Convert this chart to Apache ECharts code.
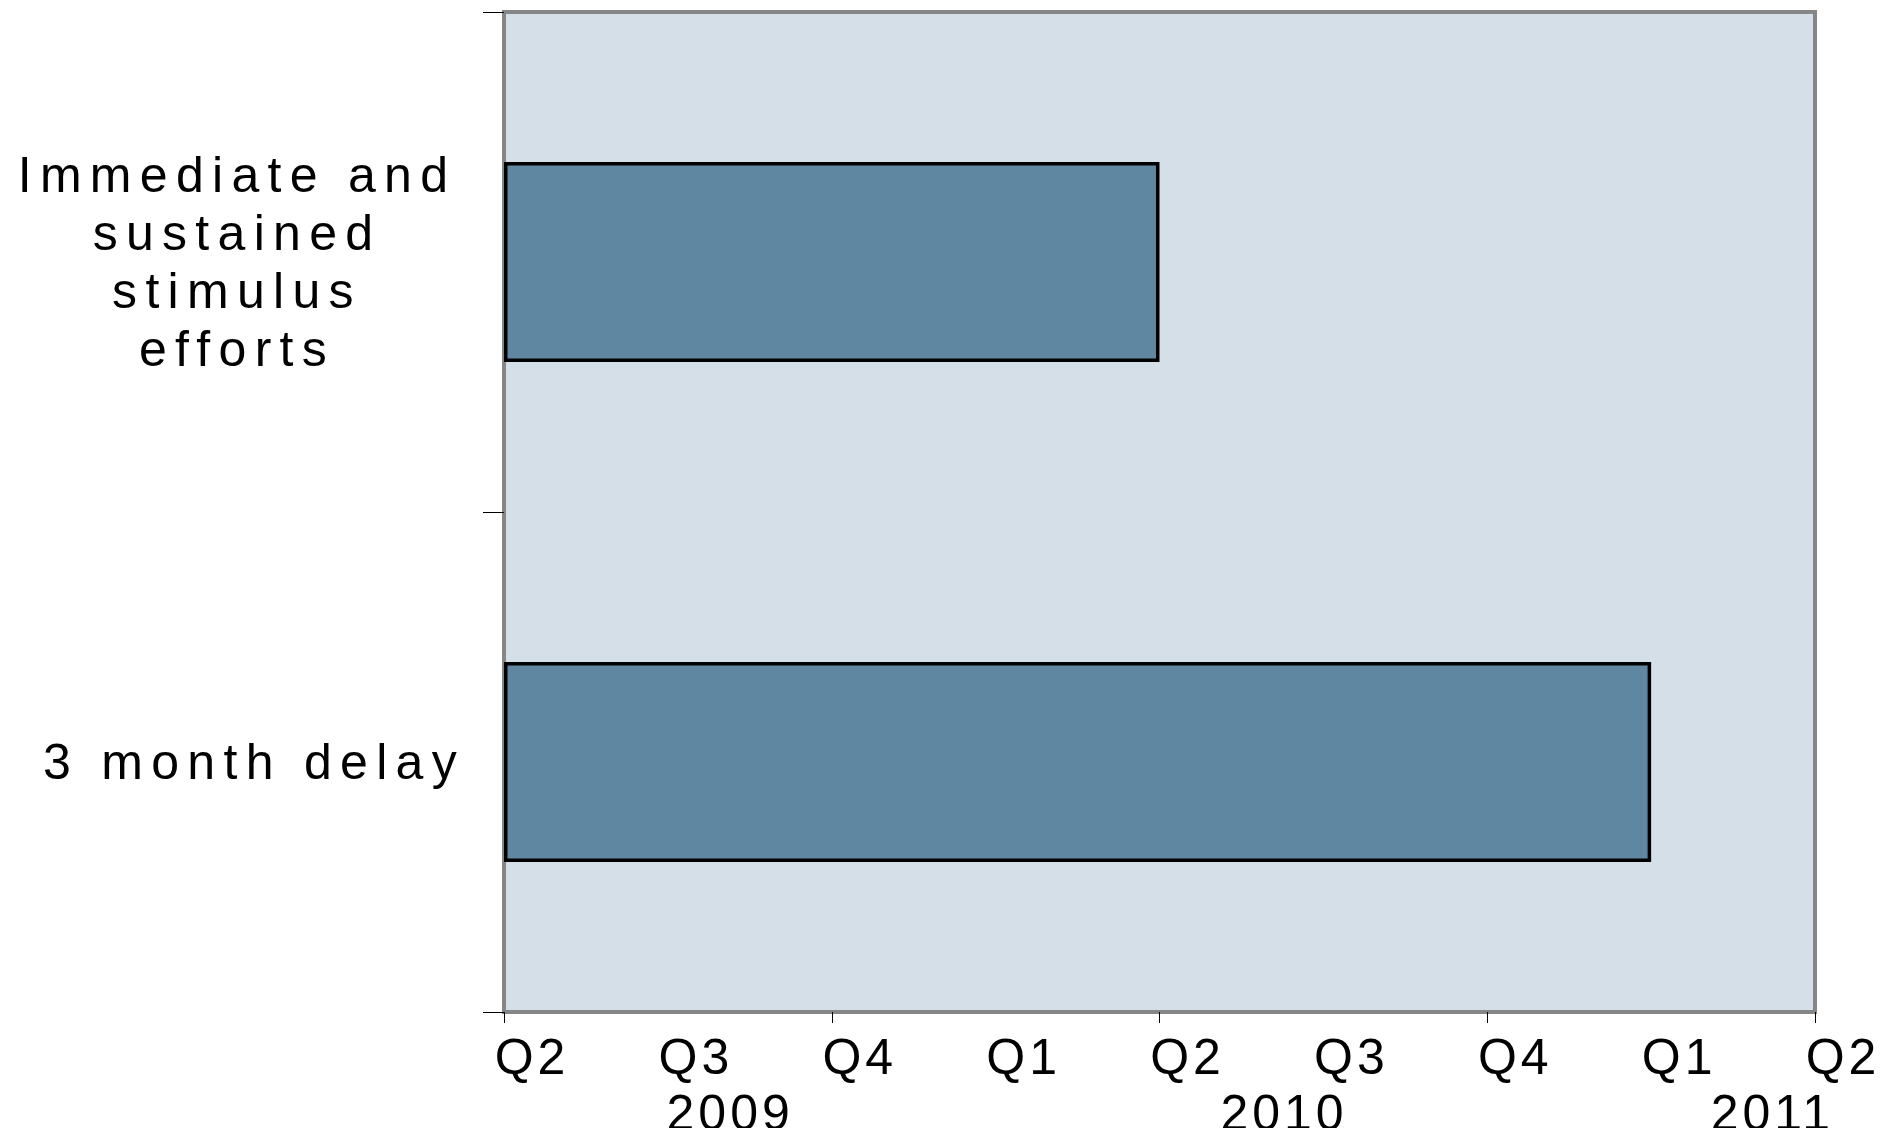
<!DOCTYPE html>
<html>
<head>
<meta charset="utf-8">
<title>Stimulus timing</title>
<style>
  html, body { margin: 0; padding: 0; background: #ffffff; }
  #chart { width: 1889px; height: 1128px; }
  /* spaced-out lettering of the axis texts */
  #chart svg text { letter-spacing: 4px; }
  #chart svg text[style*="sans-serif"] { letter-spacing: 8.3px; }
</style>
<script src="https://cdn.jsdelivr.net/npm/echarts@6/dist/echarts.min.js"></script>
</head>
<body>
<div id="chart"></div>
<script>
// Scenarios (top to bottom) and how many quarters after Q2 2009 each one runs
const scenarios = ['Immediate and\nsustained\nstimulus\nefforts', '3 month delay'];
const quartersFromQ2_2009 = [4, 7];

// Quarter axis: one label per quarter, tick marks every half year
const quarterLabels = ['Q2', 'Q3', 'Q4', 'Q1', 'Q2', 'Q3', 'Q4', 'Q1', 'Q2'];
const tickQuarters = [0, 2, 4, 6, 8];

// Year captions under the quarter labels (positions in quarters)
const yearLabels = ['2009', '2010', '2011'];
const yearPositions = [1.38, 4.76, 7.74];

const chart = echarts.init(document.getElementById('chart'), null, { renderer: 'svg' });

const axisFont = 'Liberation Sans';
const categoryFont = 'Liberation Sans, sans-serif';
const textSize = 50;

// each category label is centred line by line; the single-line one sits a bit further right
function categoryLabelStyle(name) {
  const multiLine = name.indexOf('\n') >= 0;
  return {
    align: 'center',
    verticalAlign: 'middle',
    fontFamily: categoryFont,
    fontSize: textSize,
    lineHeight: 58,
    color: '#000000',
    padding: multiLine ? [0, 0, 0, 4] : [0, 0, 0, 38]
  };
}

chart.setOption({
  animation: false,
  grid: {
    left: 504, right: 74, top: 12, bottom: 116,
    containLabel: false,
    outerBoundsMode: 'none',
    show: true,
    backgroundColor: '#D5DFE8',
    borderColor: '#868686',
    borderWidth: 4
  },
  xAxis: [
    {
      type: 'value',
      position: 'bottom',
      min: 0, max: quarterLabels.length - 1, interval: 1,
      splitLine: { show: false },
      axisLine: { show: false },
      axisTick: {
        show: true, length: 11, customValues: tickQuarters,
        lineStyle: { color: '#000000', width: 1 }
      },
      axisLabel: {
        show: true,
        showMinLabel: true, showMaxLabel: true,
        hideOverlap: false,
        margin: 20,
        color: '#000000',
        fontFamily: axisFont,
        fontSize: textSize,
        lineHeight: 50,
        padding: [0, 0, 0, 56],
        formatter: v => quarterLabels[Math.round(v)] || ''
      }
    },
    {
      type: 'value',
      position: 'bottom',
      min: 0, max: quarterLabels.length - 1,
      splitLine: { show: false },
      axisLine: { show: false },
      axisTick: { show: false },
      axisLabel: {
        show: true,
        customValues: yearPositions,
        hideOverlap: false,
        margin: 76,
        color: '#000000',
        fontFamily: axisFont,
        fontSize: textSize,
        lineHeight: 50,
        formatter: v => {
          const i = yearPositions.findIndex(p => Math.abs(p - v) < 1e-6);
          return i >= 0 ? yearLabels[i] : '';
        }
      }
    }
  ],
  yAxis: {
    type: 'category',
    inverse: true,
    data: scenarios.map(name => ({ value: name, textStyle: categoryLabelStyle(name) })),
    axisLine: { show: false },
    axisTick: {
      show: true, length: 21, alignWithLabel: false,
      lineStyle: { color: '#000000', width: 1 }
    },
    splitLine: { show: false },
    axisLabel: {
      interval: 0,
      margin: 269,
      align: 'center',
      color: '#000000',
      fontFamily: categoryFont,
      fontSize: textSize,
      lineHeight: 58
    }
  },
  series: [
    {
      type: 'bar',
      xAxisIndex: 0,
      data: quartersFromQ2_2009,
      barWidth: '40%',
      itemStyle: {
        color: '#5F87A1',
        borderColor: '#000000',
        borderWidth: 3.5
      },
      silent: true
    }
  ]
});
</script>
</body>
</html>
